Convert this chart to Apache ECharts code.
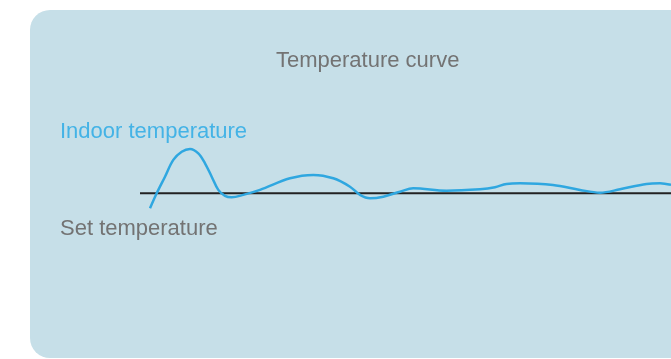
<!DOCTYPE html>
<html>
<head>
<meta charset="utf-8">
<script src="https://cdn.jsdelivr.net/npm/echarts@6/dist/echarts.min.js"></script>
<style>
  html, body { margin: 0; padding: 0; background: #fff; }
  #chart { width: 671px; height: 359px; }
</style>
</head>
<body>
<div id="chart"></div>
<script>
// time (min) and indoor temperature (°C)
const timeMin = [2, 3.34, 5, 6.66, 8.34, 10, 11.66, 13, 14.34, 15.66, 17, 18.34, 20.66, 24, 30, 34.66, 38.66, 42, 44, 46, 48.66, 52, 54.66, 61.3, 68, 71, 73.3, 76, 82.6, 88, 92, 96, 101.3, 104, 106.2];
const indoorTemp = [21.25, 22.0, 22.83, 23.67, 24.08, 24.22, 24.0, 23.5, 22.83, 22.17, 21.87, 21.8, 21.92, 22.17, 22.75, 22.92, 22.75, 22.33, 21.92, 21.75, 21.83, 22.08, 22.25, 22.13, 22.2, 22.3, 22.47, 22.5, 22.42, 22.17, 22.03, 22.2, 22.47, 22.5, 22.42];
const setTime = [0, 106.2];
const setTemp = [22, 22];

const chart = echarts.init(document.getElementById("chart"));

const labelFont = { fontFamily: "Liberation Sans", fontSize: 22, fontWeight: "normal" };

const option = {
  animation: false,
  graphic: [
    {
      type: "rect",
      z: -10,
      shape: { x: 30, y: 10, width: 700, height: 348, r: 20 },
      style: { fill: "#c6dfe8" },
    },
  ],
  title: [
    {
      text: "Temperature curve",
      left: 276,
      top: 50,
      padding: 0,
      textStyle: Object.assign({ color: "#737373" }, labelFont),
    },
    {
      text: "Indoor temperature",
      left: 60,
      top: 121,
      padding: 0,
      textStyle: Object.assign({ color: "#44b3e6" }, labelFont),
    },
    {
      text: "Set temperature",
      left: 60,
      top: 218,
      padding: 0,
      textStyle: Object.assign({ color: "#737373" }, labelFont),
    },
  ],
  grid: { left: 140, right: 0, top: 93.3, height: 200 },
  xAxis: { type: "value", min: 0, max: 106.2, show: false },
  yAxis: { type: "value", min: 17, max: 27, show: false },
  series: [
    {
      name: "Set temperature",
      type: "line",
      data: setTime.map((t, i) => [t, setTemp[i]]),
      symbol: "none",
      lineStyle: { color: "#222", width: 2 },
      z: 2,
    },
    {
      name: "Indoor temperature",
      type: "line",
      data: timeMin.map((t, i) => [t, indoorTemp[i]]),
      smooth: 0.35,
      symbol: "none",
      lineStyle: { color: "#2fa7e0", width: 2.5 },
      z: 3,
    },
  ],
};

chart.setOption(option);
</script>
</body>
</html>
